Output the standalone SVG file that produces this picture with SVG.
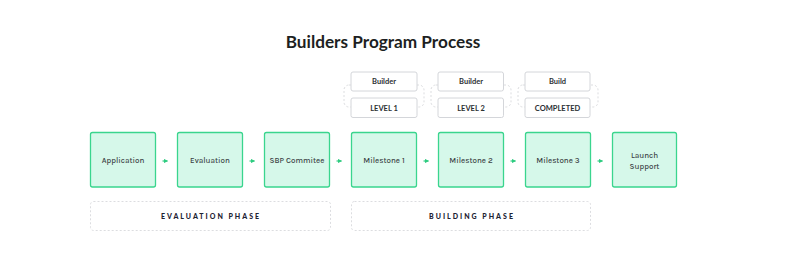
<svg xmlns="http://www.w3.org/2000/svg" width="800" height="276" viewBox="0 0 800 276">
<defs>
<style>
.step{fill:#d6f8ea;stroke:#3ad58e;stroke-width:1.3}
.st{font-family:"Karla","Lato","Noto Sans",sans-serif;font-size:8px;font-weight:500;fill:#3a3f44;text-anchor:middle}
.tag{fill:#fff;stroke:#d4d6da;stroke-width:1}
.tt{font-family:"Lato","Noto Sans",sans-serif;font-size:7.5px;font-weight:700;fill:#2b2f33;text-anchor:middle}
.dash{fill:none;stroke:#dcdde0;stroke-width:1;stroke-dasharray:2 2}
.ph{font-family:"Lato","Noto Sans",sans-serif;font-size:7px;font-weight:900;fill:#1d2233;text-anchor:middle;letter-spacing:2px}
.arr{stroke:#2ecc80;stroke-width:1.2;fill:none}
</style>
<marker id="ah" viewBox="0 0 6 6" refX="5" refY="3" markerWidth="3.5" markerHeight="3.5" orient="auto">
<path d="M0,0 L6,3 L0,6 z" fill="#2ecc80"/>
</marker>
</defs>
<rect width="800" height="276" fill="#fff"/>
<text x="383" y="48" text-anchor="middle" font-family="Lato,'Noto Sans',sans-serif" font-size="17.2" font-weight="700" fill="#1d1f22">Builders Program Process</text>

<g id="level1">
<rect class="dash" x="344" y="85" width="80" height="22" rx="5"/>
<rect class="tag" x="351" y="72" width="66" height="19" rx="2"/>
<text class="tt" x="384" y="84">Builder</text>
<rect class="tag" x="351" y="98" width="66" height="19.5" rx="2"/>
<text class="tt" x="384" y="110.5">LEVEL 1</text>
</g>
<g id="level2">
<rect class="dash" x="431" y="85" width="80" height="22" rx="5"/>
<rect class="tag" x="438" y="72" width="65.5" height="19" rx="2"/>
<text class="tt" x="471" y="84">Builder</text>
<rect class="tag" x="438" y="98" width="65.5" height="19.5" rx="2"/>
<text class="tt" x="471" y="110.5">LEVEL 2</text>
</g>
<g id="completed">
<rect class="dash" x="518" y="85" width="80" height="22" rx="5"/>
<rect class="tag" x="525" y="72" width="65" height="19" rx="2"/>
<text class="tt" x="557.5" y="84">Build</text>
<rect class="tag" x="525" y="98" width="65" height="19.5" rx="2"/>
<text class="tt" x="557.5" y="110.5">COMPLETED</text>
</g>

<g id="application"><rect class="step" x="90.5" y="132.5" width="65" height="54.5" rx="2"/><text class="st" x="123" y="162.5">Application</text></g>
<g id="evaluation"><rect class="step" x="177.5" y="132.5" width="65" height="54.5" rx="2"/><text class="st" x="210" y="162.5">Evaluation</text></g>
<g id="sbp"><rect class="step" x="264.5" y="132.5" width="65" height="54.5" rx="2"/><text class="st" x="297" y="162.5">SBP Commitee</text></g>
<g id="milestone1"><rect class="step" x="351.5" y="132.5" width="65" height="54.5" rx="2"/><text class="st" x="384" y="162.5">Milestone 1</text></g>
<g id="milestone2"><rect class="step" x="438.5" y="132.5" width="65" height="54.5" rx="2"/><text class="st" x="471" y="162.5">Milestone 2</text></g>
<g id="milestone3"><rect class="step" x="525.5" y="132.5" width="65" height="54.5" rx="2"/><text class="st" x="558" y="162.5">Milestone 3</text></g>
<g id="launch"><rect class="step" x="612.5" y="132.5" width="64" height="54.5" rx="2"/><text class="st" x="644.5" y="157.5">Launch</text><text class="st" x="644.5" y="168.5">Support</text></g>

<g id="connectors">
<line class="arr" x1="162.5" y1="161" x2="167.5" y2="161" marker-end="url(#ah)"/>
<line class="arr" x1="249.5" y1="161" x2="254.5" y2="161" marker-end="url(#ah)"/>
<line class="arr" x1="336.5" y1="161" x2="341.5" y2="161" marker-end="url(#ah)"/>
<line class="arr" x1="423.5" y1="161" x2="428.5" y2="161" marker-end="url(#ah)"/>
<line class="arr" x1="510.5" y1="161" x2="515.5" y2="161" marker-end="url(#ah)"/>
<line class="arr" x1="597.5" y1="161" x2="602.5" y2="161" marker-end="url(#ah)"/>
</g>

<g id="evaluation-phase">
<rect class="dash" x="90.5" y="201.5" width="240" height="29" rx="3"/>
<text class="ph" x="211" y="219">EVALUATION PHASE</text>
</g>
<g id="building-phase">
<rect class="dash" x="351.5" y="201.5" width="239" height="29" rx="3"/>
<text class="ph" x="472" y="219">BUILDING PHASE</text>
</g>
</svg>
